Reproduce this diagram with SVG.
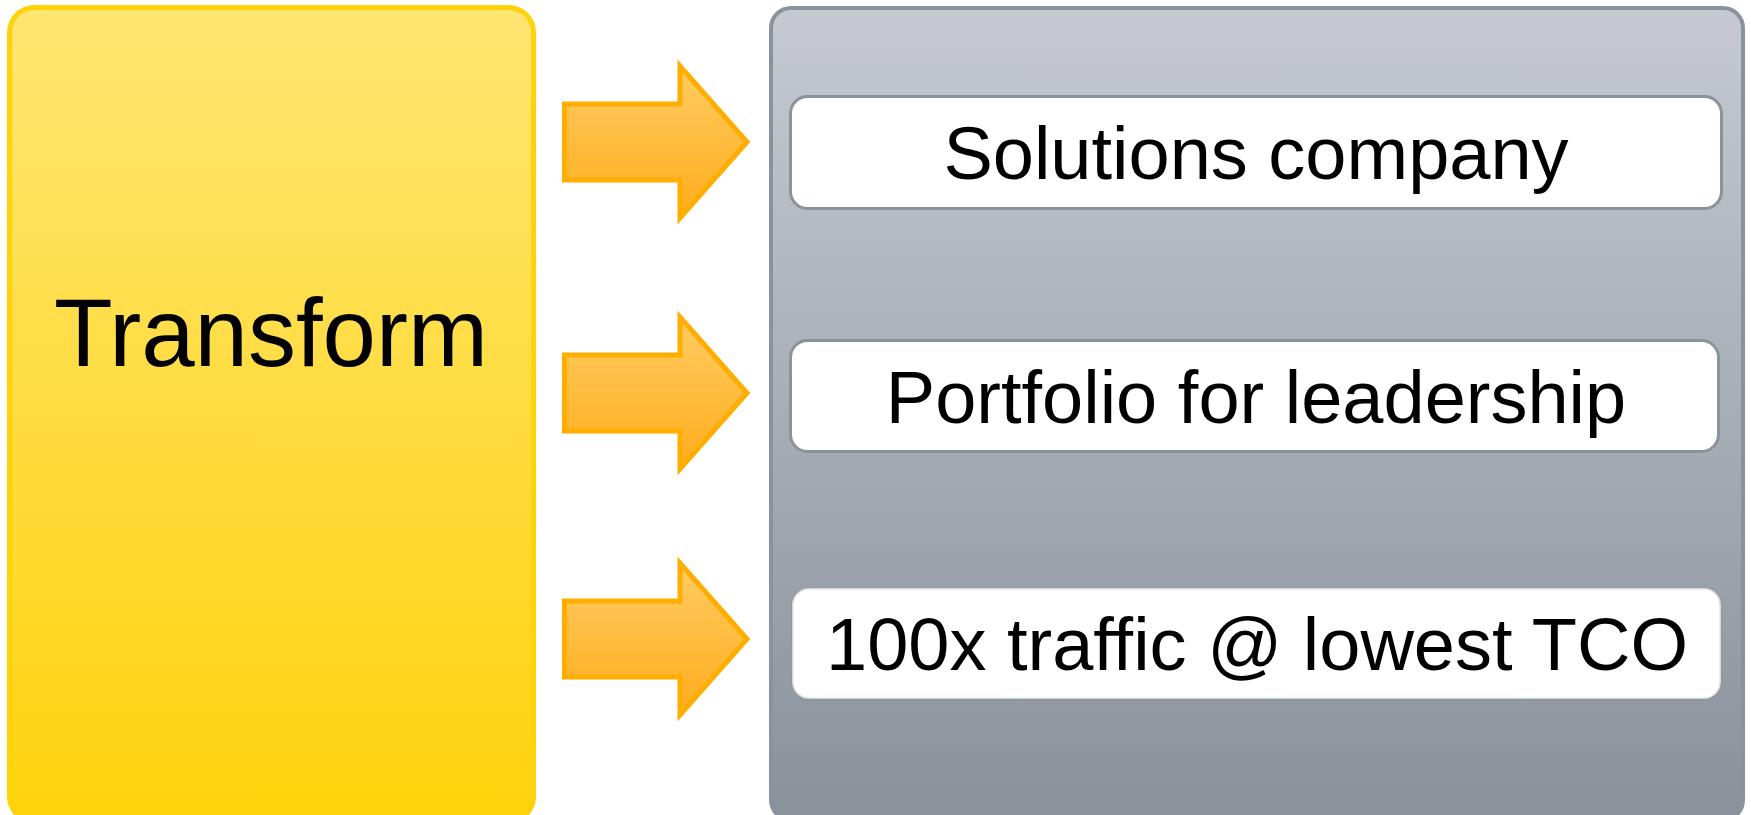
<svg xmlns="http://www.w3.org/2000/svg" width="1751" height="815" viewBox="0 0 1751 815">
<defs>
<linearGradient id="gy" x1="0" y1="0" x2="0" y2="1"><stop offset="0" stop-color="#FFE572"/><stop offset="1" stop-color="#FFD30C"/></linearGradient>
<linearGradient id="gg" x1="0" y1="0" x2="0" y2="1"><stop offset="0" stop-color="#C6CAD0"/><stop offset="1" stop-color="#89919B"/></linearGradient>
<linearGradient id="ga" x1="0" y1="0" x2="0" y2="1"><stop offset="0" stop-color="#FFCC62"/><stop offset="1" stop-color="#FFAC1C"/></linearGradient>
<style>
.t{font-family:"Liberation Sans",Arial,sans-serif;fill:#000;text-anchor:middle}
.wb{fill:#fff;stroke:#8A939C;stroke-width:3}
.ar{fill:url(#ga);stroke:#FFAE00;stroke-width:5}
</style>
</defs>
<g id="transform">
<rect x="9.5" y="7.5" width="524" height="814" rx="25" fill="url(#gy)" stroke="#FFD20A" stroke-width="5"/>
<text class="t" x="271" y="366" font-size="96">Transform</text>
</g>
<g id="panel">
<rect x="771" y="8" width="972" height="812" rx="20" fill="url(#gg)" stroke="#8A939C" stroke-width="4"/>
</g>
<g id="solutions">
<rect class="wb" x="790.5" y="96.5" width="931" height="112" rx="17"/>
<text class="t" x="1256" y="179" font-size="74">Solutions company</text>
</g>
<g id="portfolio">
<rect class="wb" x="790.5" y="340.5" width="928" height="111" rx="17"/>
<text class="t" x="1256" y="423" font-size="74">Portfolio for leadership</text>
</g>
<g id="traffic">
<rect x="792" y="588" width="929" height="111" rx="17" fill="#fff" stroke="#8A929C" stroke-opacity="0.35" stroke-width="3"/>
<text class="t" x="1257" y="670" font-size="74">100x traffic @ lowest TCO</text>
</g>
<g id="connectors">
<path class="ar" d="M564.5,104 H680 V66 L747,142 L680,218 V180 H564.5 Z"/>
<path class="ar" d="M564.5,355 H680 V317 L747,393 L680,469 V431 H564.5 Z"/>
<path class="ar" d="M564.5,601 H680 V563 L747,639 L680,715 V677 H564.5 Z"/>
</g>
</svg>
